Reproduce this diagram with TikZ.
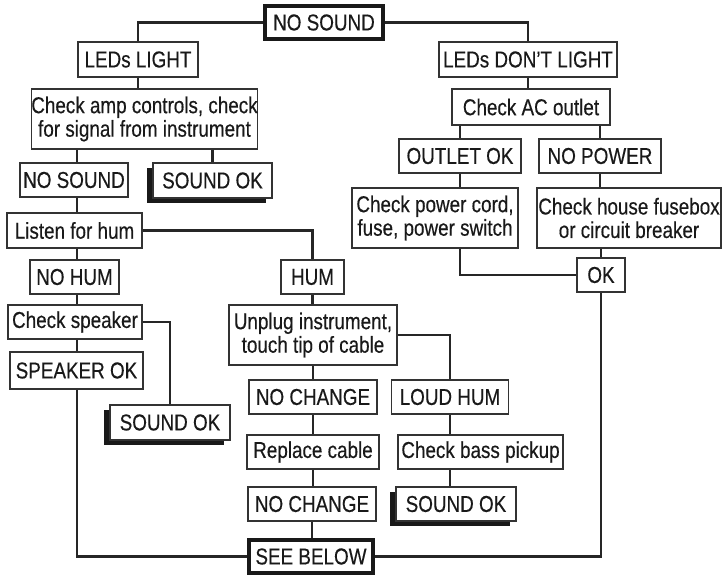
\documentclass[tikz,border=0pt]{standalone}
\usepackage{fontspec}
\setmainfont{Liberation Sans}[FakeStretch=0.82]
\newfontfamily\flowfont{Liberation Sans}[FakeStretch=0.82,FakeBold=0.35]
\usetikzlibrary{shadows}
\begin{document}
\begin{tikzpicture}[x=1pt,y=-1pt,
  box/.style={draw=black!80, line width=1.1pt, fill=white, text=black!90, inner sep=0pt, align=center, font=\flowfont\fontsize{23}{23.5}\selectfont},
  thickbox/.style={box, draw=black!90, line width=3.5pt},
  shbox/.style={box, drop shadow={shadow xshift=-6pt, shadow yshift=-5pt, fill=black!90, opacity=1}},
  wh/.style 2 args={minimum width=#1pt, minimum height=#2pt},
  conn/.style={draw=black!85, line width=2.2pt}]
\useasboundingbox (0,0) rectangle (722,575);
\coordinate (lx) at (77,0);
% left branch
\node[thickbox, wh={118}{33}] (top) at (324,22.5) {NO SOUND};
\node[box, wh={120}{35}] (ledl) at (138,59.5) {LEDs LIGHT};
\node[box, wh={225}{60}] (amp) at (144.5,119) {Check amp controls, check\\for signal from instrument};
\node[box, wh={108}{34}] (nsl) at (74,180) {NO SOUND};
\node[shbox, wh={119}{35}] (so1) at (212.5,180.5) {SOUND OK};
\node[box, wh={135}{35}] (listen) at (74.5,230.5) {Listen for hum};
\node[box, wh={89}{34}] (nohum) at (74.5,277) {NO HUM};
\node[box, wh={63}{34}] (hum) at (312.5,277) {HUM};
\node[box, wh={134}{34}] (spk) at (75,322) {Check speaker};
\node[box, wh={133}{37}] (spkok) at (76.5,370.5) {SPEAKER OK};
\node[shbox, wh={120}{35}] (so2) at (170,422.5) {SOUND OK};
\node[box, wh={168}{60}] (unplug) at (313,335) {Unplug instrument,\\touch tip of cable};
\node[box, wh={128}{34}] (nc1) at (313,397) {NO CHANGE};
\node[box, wh={117}{34}] (loud) at (450,397) {LOUD HUM};
\node[box, wh={132}{34}] (repl) at (313,452) {Replace cable};
\node[box, wh={165}{34}] (bass) at (480.5,452) {Check bass pickup};
\node[box, wh={128}{34}] (nc2) at (312,504) {NO CHANGE};
\node[shbox, wh={120}{34}] (so3) at (456,504) {SOUND OK};
\node[thickbox, wh={124}{33}] (see) at (311,556.5) {SEE BELOW};
% right branch
\node[box, wh={178}{35}] (ledd) at (528,59.5) {LEDs DON’T LIGHT};
\node[box, wh={158}{36}] (ac) at (531,107) {Check AC outlet};
\node[box, wh={122}{34}] (outlet) at (460,156) {OUTLET OK};
\node[box, wh={122}{34}] (nopow) at (600,156) {NO POWER};
\node[box, wh={166}{60}] (cord) at (435,218) {Check power cord,\\fuse, power switch};
\node[box, wh={184}{60}] (fuse) at (629,218) {Check house fusebox\\or circuit breaker};
\node[box, wh={48}{34}] (ok) at (601,275) {OK};
% connectors
\draw[conn] (top.west) -| (ledl.north);
\draw[conn] (top.east) -| (ledd.north);
\draw[conn] (ledl.south) -- (ledl.south |- amp.north);
\draw[conn] (amp.south -| lx) -- (nsl.north -| lx);
\draw[conn] (amp.south -| so1) -- (so1.north);
\draw[conn] (nsl.south -| lx) -- (listen.north -| lx);
\draw[conn] (listen.east) -| (hum.north);
\draw[conn] (listen.south -| lx) -- (nohum.north -| lx);
\draw[conn] (nohum.south -| lx) -- (spk.north -| lx);
\draw[conn] (spk.south -| lx) -- (spkok.north -| lx);
\draw[conn] (spk.east) -| (so2.north);
\draw[conn] (hum.south) -- (hum.south |- unplug.north);
\draw[conn] (unplug.east) -| (loud.north);
\draw[conn] (unplug.south) -- (nc1.north);
\draw[conn] (loud.south) -- (loud.south |- bass.north);
\draw[conn] (bass.south -| loud) -- (so3.north -| loud);
\draw[conn] (nc1.south) -- (repl.north);
\draw[conn] (repl.south) -- (repl.south |- nc2.north);
\draw[conn] (nc2.south) -- (nc2.south |- see.north);
\draw[conn] (spkok.south -| lx) |- (see.west);
\draw[conn] (ok.south) |- (see.east);
\draw[conn] (ledd.south) -- (ledd.south |- ac.north);
\draw[conn] (ac.south -| outlet) -- (outlet.north);
\draw[conn] (ac.south -| nopow) -- (nopow.north);
\draw[conn] (outlet.south) -- (outlet.south |- cord.north);
\draw[conn] (nopow.south) -- (nopow.south |- fuse.north);
\draw[conn] (fuse.south -| ok) -- (ok.north);
\draw[conn] (cord.south -| outlet) |- (ok.west);
\end{tikzpicture}
\end{document}
